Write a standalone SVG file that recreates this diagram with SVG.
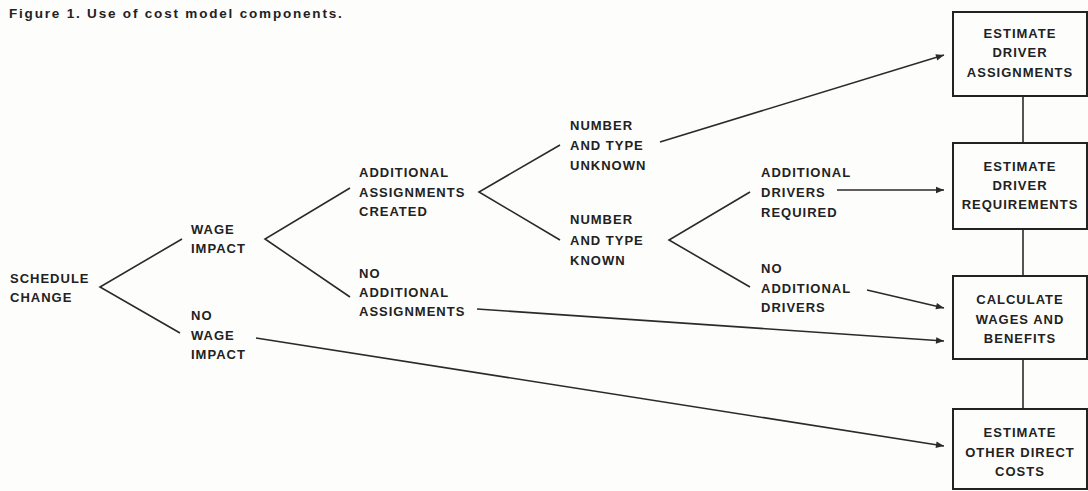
<svg xmlns="http://www.w3.org/2000/svg" width="1088" height="491" viewBox="0 0 1088 491">
<style>
text{font-family:"Liberation Sans",Arial,sans-serif;font-weight:bold;font-size:13px;fill:#222;letter-spacing:1px}
.c{text-anchor:middle}
.t{font-size:13.5px;letter-spacing:0.2px}
.ln{stroke:#2a2a2a;stroke-width:1.6;fill:none}
.bx{stroke:#222;stroke-width:2;fill:#fdfdfc}
</style>
<defs>
<marker id="ah" viewBox="0 0 10 10" refX="10" refY="5" markerWidth="12" markerHeight="8" markerUnits="userSpaceOnUse" orient="auto">
<path d="M0,1 L10,5 L0,9 Z" fill="#2a2a2a"/>
</marker>
</defs>
<rect width="1088" height="491" fill="#fdfdfc"/>
<text class="t" x="9" y="18" textLength="333" lengthAdjust="spacing">Figure 1.  Use of cost model components.</text>

<g id="connectors">
<polyline class="ln" points="182,239 100,287 180,333"/>
<polyline class="ln" points="350,188 265,239 350,297"/>
<polyline class="ln" points="560,145 479,192 560,240"/>
<polyline class="ln" points="750,192 669,240 750,287"/>
<line class="ln" x1="660" y1="142" x2="944" y2="55" marker-end="url(#ah)"/>
<line class="ln" x1="837" y1="190" x2="944" y2="190" marker-end="url(#ah)"/>
<line class="ln" x1="867" y1="290" x2="944" y2="308" marker-end="url(#ah)"/>
<line class="ln" x1="477" y1="309" x2="944" y2="341" marker-end="url(#ah)"/>
<line class="ln" x1="256" y1="338" x2="944" y2="446" marker-end="url(#ah)"/>
<line class="ln" x1="1023" y1="96" x2="1023" y2="143"/>
<line class="ln" x1="1023" y1="229" x2="1023" y2="276"/>
<line class="ln" x1="1023" y1="359" x2="1023" y2="409"/>
</g>

<g id="schedule-change"><text x="10" y="283">SCHEDULE</text><text x="10" y="302">CHANGE</text></g>
<g id="wage-impact"><text x="191" y="234">WAGE</text><text x="191" y="253">IMPACT</text></g>
<g id="no-wage-impact"><text x="191" y="320">NO</text><text x="191" y="340">WAGE</text><text x="191" y="359">IMPACT</text></g>
<g id="additional-assignments-created"><text x="359" y="177">ADDITIONAL</text><text x="359" y="197">ASSIGNMENTS</text><text x="359" y="216">CREATED</text></g>
<g id="no-additional-assignments"><text x="359" y="278">NO</text><text x="359" y="297">ADDITIONAL</text><text x="359" y="316">ASSIGNMENTS</text></g>
<g id="type-unknown"><text x="570" y="130">NUMBER</text><text x="570" y="150">AND TYPE</text><text x="570" y="170">UNKNOWN</text></g>
<g id="type-known"><text x="570" y="224">NUMBER</text><text x="570" y="245">AND TYPE</text><text x="570" y="265">KNOWN</text></g>
<g id="additional-drivers-required"><text x="761" y="177">ADDITIONAL</text><text x="761" y="197">DRIVERS</text><text x="761" y="217">REQUIRED</text></g>
<g id="no-additional-drivers"><text x="761" y="273">NO</text><text x="761" y="293">ADDITIONAL</text><text x="761" y="312">DRIVERS</text></g>

<g id="box-assignments"><rect class="bx" x="953" y="12" width="134" height="84"/>
<text class="c" x="1020" y="38">ESTIMATE</text><text class="c" x="1020" y="57">DRIVER</text><text class="c" x="1020" y="77">ASSIGNMENTS</text></g>
<g id="box-requirements"><rect class="bx" x="953" y="143" width="134" height="86"/>
<text class="c" x="1020" y="171">ESTIMATE</text><text class="c" x="1020" y="190">DRIVER</text><text class="c" x="1020" y="209">REQUIREMENTS</text></g>
<g id="box-wages"><rect class="bx" x="953" y="276" width="134" height="83"/>
<text class="c" x="1020" y="304">CALCULATE</text><text class="c" x="1020" y="324">WAGES AND</text><text class="c" x="1020" y="343">BENEFITS</text></g>
<g id="box-other"><rect class="bx" x="953" y="409" width="134" height="80"/>
<text class="c" x="1020" y="437">ESTIMATE</text><text class="c" x="1020" y="457">OTHER DIRECT</text><text class="c" x="1020" y="476">COSTS</text></g>
</svg>
